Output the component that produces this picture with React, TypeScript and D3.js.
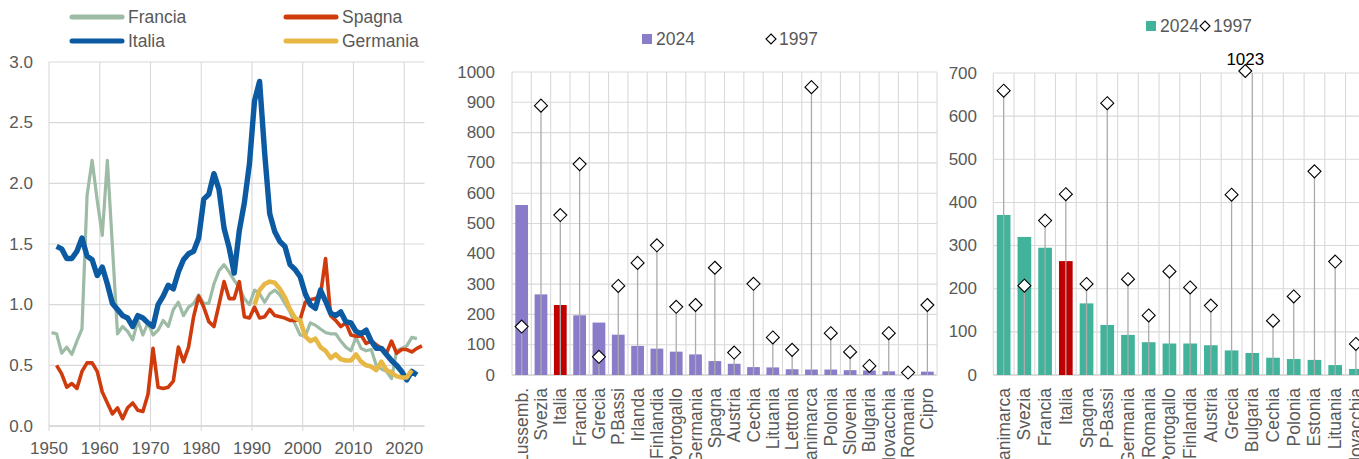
import React from 'react';
import * as d3 from 'd3';

const FONT = "'Liberation Sans Narrow','Arial Narrow','Liberation Sans',sans-serif";
const GRID = '#d9d9d9';
const TXT = '#595959';

// ---------- Panel 1: line chart ----------
const franciaStart = 1950;
const francia = [0.77, 0.76, 0.60, 0.65, 0.59, 0.70, 0.80, 1.90, 2.19, 1.86, 1.57, 2.19, 1.48, 0.76, 0.82, 0.78, 0.71, 0.87, 0.75, 0.85,
  0.75, 0.79, 0.87, 0.82, 0.96, 1.02, 0.91, 0.98, 1.01, 1.08, 1.01, 1.01, 1.17, 1.28, 1.33, 1.27, 1.20, 1.14, 1.05, 1.00,
  1.12, 1.09, 1.02, 1.09, 1.12, 1.08, 1.01, 0.94, 0.84, 0.75, 0.74, 0.85, 0.83, 0.80, 0.77, 0.76, 0.76, 0.70, 0.65, 0.62,
  0.73, 0.64, 0.62, 0.63, 0.50, 0.47, 0.45, 0.39, 0.62, 0.64, 0.66, 0.73, 0.72];
const spagnaStart = 1951;
const spagna = [0.50, 0.43, 0.32, 0.35, 0.31, 0.45, 0.52, 0.52, 0.45, 0.28, 0.19, 0.10, 0.15, 0.06, 0.15, 0.19, 0.13, 0.12, 0.26,
  0.64, 0.32, 0.31, 0.32, 0.37, 0.65, 0.53, 0.65, 0.90, 1.07, 0.98, 0.86, 0.82, 1.00, 1.19, 1.05, 1.05, 1.19, 0.90, 0.89,
  0.98, 0.89, 0.90, 0.96, 0.91, 0.90, 0.89, 0.87, 0.87, 0.88, 1.02, 1.04, 1.05, 1.08, 1.38, 0.91, 0.87, 0.82, 0.85, 0.75,
  0.74, 0.75, 0.68, 0.70, 0.67, 0.64, 0.60, 0.70, 0.60, 0.63, 0.63, 0.61, 0.64, 0.66];
const italiaStart = 1951;
const italia = [1.48, 1.46, 1.38, 1.38, 1.44, 1.55, 1.40, 1.37, 1.24, 1.31, 1.17, 1.01, 0.96, 0.91, 0.89, 0.82, 0.91, 0.89, 0.85,
  0.82, 1.00, 1.07, 1.16, 1.13, 1.27, 1.37, 1.42, 1.44, 1.55, 1.87, 1.91, 2.08, 1.95, 1.63, 1.47, 1.26, 1.61, 1.84, 2.16,
  2.68, 2.84, 2.25, 1.75, 1.60, 1.52, 1.48, 1.33, 1.29, 1.23, 1.09, 1.00, 0.97, 1.12, 1.03, 0.93, 0.91, 0.94, 0.86, 0.85,
  0.78, 0.76, 0.79, 0.70, 0.64, 0.64, 0.59, 0.54, 0.50, 0.45, 0.38, 0.45, 0.42];
const germaniaStart = 1990;
const germania = [1.00, 1.12, 1.17, 1.19, 1.18, 1.13, 1.06, 0.96, 0.89, 0.87, 0.74, 0.70, 0.72, 0.65, 0.62, 0.56, 0.59, 0.55,
  0.54, 0.54, 0.59, 0.53, 0.50, 0.49, 0.46, 0.53, 0.46, 0.44, 0.41, 0.40, 0.40, 0.46];
const yearTicks = [1950, 1960, 1970, 1980, 1990, 2000, 2010, 2020];
const valueTicks1 = [0, 0.5, 1, 1.5, 2, 2.5, 3];

// ---------- Panel 2 ----------
const cats2 = ['Lussemb.', 'Svezia', 'Italia', 'Francia', 'Grecia', 'P.Bassi', 'Irlanda', 'Finlandia', 'Portogallo', 'Germania',
  'Spagna', 'Austria', 'Cechia', 'Lituania', 'Lettonia', 'Danimarca', 'Polonia', 'Slovenia', 'Bulgaria', 'Slovacchia', 'Romania', 'Cipro'];
const bars2 = [561, 266, 231, 197, 173, 133, 96, 87, 77, 68, 46, 37, 26, 25, 19, 18, 18, 16, 15, 12, 1, 11];
const pts2 = [160, 889, 528, 696, 60, 294, 370, 428, 225, 231, 354, 74, 301, 124, 83, 950, 138, 76, 30, 138, 8, 231];
const ticks2 = [0, 100, 200, 300, 400, 500, 600, 700, 800, 900, 1000];

// ---------- Panel 3 ----------
const cats3 = ['Danimarca', 'Svezia', 'Francia', 'Italia', 'Spagna', 'P-Bassi', 'Germania', 'Romania', 'Portogallo', 'Finlandia',
  'Austria', 'Grecia', 'Bulgaria', 'Cechia', 'Polonia', 'Estonia', 'Lituania', 'Slovacchia'];
const bars3 = [371, 320, 295, 264, 166, 116, 93, 76, 73, 73, 69, 57, 51, 40, 37, 35, 23, 14];
const pts3 = [659, 207, 358, 419, 211, 630, 222, 138, 240, 203, 161, 418, 1023, 126, 182, 472, 263, 72];
const ticks3 = [0, 100, 200, 300, 400, 500, 600, 700];

const PURPLE = '#8a7cc8';
const TEAL = '#41b39a';
const RED = '#c00000';

function diamond(cx: number, cy: number, r: number) {
  return `M${cx},${cy - r}L${cx + r},${cy}L${cx},${cy + r}L${cx - r},${cy}Z`;
}

function BarPanel(props: {
  cats: string[]; bars: number[]; pts: number[]; ticks: number[]; max: number;
  x0: number; step: number; y0: number; yTop: number; labelX: number; color: string; gridRight: number;
}) {
  const { cats, bars, pts, ticks, max, x0, step, y0, yTop, labelX, color, gridRight } = props;
  const x = d3.scaleBand<string>().domain(cats).range([x0, x0 + step * cats.length]).paddingInner(0.34).paddingOuter(0.17);
  const y = d3.scaleLinear().domain([0, max]).range([y0, yTop]);
  const bw = x.bandwidth();
  const cx = (c: string) => (x(c) as number) + bw / 2;
  const bounds = d3.range(cats.length + 1).map((i) => x0 + i * x.step());
  return (
    <g>
      {ticks.map((t) => (
        <line key={'h' + t} x1={x0} x2={gridRight} y1={y(t)} y2={y(t)} stroke={t === 0 ? '#cfcfcf' : GRID} strokeWidth={t === 0 ? 1.6 : 1.1} />
      ))}
      {bounds.map((b, i) => (
        <line key={'v' + i} x1={b} x2={b} y1={y(max)} y2={y0} stroke={GRID} strokeWidth={1.1} />
      ))}
      {ticks.map((t) => (
        <text key={'t' + t} x={labelX} y={y(t)} textAnchor="end" dominantBaseline="central" fontSize={17} fill={TXT}>{t}</text>
      ))}
      {cats.map((c, i) => (
        <rect key={'b' + c} x={x(c)} y={y(bars[i])} width={bw} height={y0 - y(bars[i])} fill={c === 'Italia' ? RED : color} />
      ))}
      {cats.map((c, i) => (
        <line key={'s' + c} x1={cx(c)} x2={cx(c)} y1={y0} y2={y(Math.min(pts[i], max))} stroke="#ababab" strokeWidth={1.3} />
      ))}
      {cats.map((c, i) => {
        const over = pts[i] > max;
        const px = over ? cx(c) - 7 : cx(c);
        const py = over ? y(max) - 2 : y(pts[i]);
        return (
          <g key={'d' + c}>
            <path d={diamond(px, py, 6.5)} fill="#fff" stroke="#000" strokeWidth={1.1} />
            {over && (
              <text x={px} y={py - 6} textAnchor="middle" fontSize={17} fill="#000">{pts[i]}</text>
            )}
          </g>
        );
      })}
      {cats.map((c) => (
        <text key={'l' + c} transform={`translate(${cx(c)},388) rotate(-90)`} textAnchor="end" dominantBaseline="central" fontSize={17.5} fill={TXT}>{c}</text>
      ))}
    </g>
  );
}

export default function App() {
  const W = 1359, H = 459;
  const x1 = d3.scaleLinear().domain([1950, 2024]).range([49, 424.5]);
  const y1 = d3.scaleLinear().domain([0, 3]).range([426, 62]);
  const mk = (start: number, vals: number[]) =>
    d3.line<number>().x((_, i) => x1(start + i + 0.5)).y((d) => y1(d)).curve(d3.curveLinear)(vals) || '';

  const series = [
    { name: 'Francia', start: franciaStart, vals: francia, color: '#9dbba5', w: 3.2 },
    { name: 'Spagna', start: spagnaStart, vals: spagna, color: '#cf3b0c', w: 3.6 },
    { name: 'Italia', start: italiaStart, vals: italia, color: '#0b5aa2', w: 5.4 },
    { name: 'Germania', start: germaniaStart, vals: germania, color: '#e7b845', w: 4.6 },
  ];

  return (
    <svg width={W} height={H} style={{ position: 'absolute', left: 0, top: 0, background: '#fff' }} fontFamily={FONT}>
      <rect x={0} y={0} width={W} height={H} fill="#fff" />
      {/* Panel 1 grid */}
      {valueTicks1.map((t) => (
        <line key={'g' + t} x1={49} x2={424.5} y1={y1(t)} y2={y1(t)} stroke={t === 0 ? '#cfcfcf' : GRID} strokeWidth={t === 0 ? 1.6 : 1.1} />
      ))}
      {yearTicks.map((t) => (
        <line key={'gv' + t} x1={x1(t)} x2={x1(t)} y1={y1(3)} y2={y1(0) + 5} stroke={GRID} strokeWidth={1.1} />
      ))}
      {valueTicks1.map((t) => (
        <text key={'yl' + t} x={33} y={y1(t)} textAnchor="end" dominantBaseline="central" fontSize={17} fill={TXT}>{t.toFixed(1)}</text>
      ))}
      {yearTicks.map((t) => (
        <text key={'xl' + t} x={x1(t)} y={448} textAnchor="middle" dominantBaseline="central" fontSize={17} fill={TXT}>{t}</text>
      ))}
      {series.map((s) => (
        <path key={s.name} d={mk(s.start, s.vals)} fill="none" stroke={s.color} strokeWidth={s.w} strokeLinejoin="round" strokeLinecap="butt" />
      ))}
      {/* Panel 1 legend */}
      {series.map((s, i) => {
        const lx = i % 2 === 0 ? 72 : 286;
        const ly = i < 2 ? 17 : 41;
        return (
          <g key={'lg' + s.name}>
            <line x1={lx} x2={lx + 50} y1={ly} y2={ly} stroke={s.color} strokeWidth={5} strokeLinecap="round" />
            <text x={lx + 56} y={ly} dominantBaseline="central" fontSize={17.5} fill={TXT}>{s.name}</text>
          </g>
        );
      })}

      {/* Panel 2 */}
      <BarPanel cats={cats2} bars={bars2} pts={pts2} ticks={ticks2} max={1000} x0={512} step={19.32} y0={375} yTop={72}
        labelX={495} color={PURPLE} gridRight={937} />
      <rect x={642} y={34} width={10} height={10} fill={PURPLE} />
      <text x={656} y={39} dominantBaseline="central" fontSize={17.5} fill={TXT}>2024</text>
      <path d={diamond(771, 39, 5)} fill="#fff" stroke="#000" strokeWidth={1.1} />
      <text x={779} y={39} dominantBaseline="central" fontSize={17.5} fill={TXT}>1997</text>

      {/* Panel 3 */}
      <BarPanel cats={cats3} bars={bars3} pts={pts3} ticks={ticks3} max={700} x0={993.3} step={20.72} y0={375} yTop={73}
        labelX={977} color={TEAL} gridRight={1366} />
      <rect x={1146} y={21} width={10} height={10} fill={TEAL} />
      <text x={1160} y={26} dominantBaseline="central" fontSize={17.5} fill={TXT}>2024</text>
      <path d={diamond(1205, 26, 5)} fill="#fff" stroke="#000" strokeWidth={1.1} />
      <text x={1213} y={26} dominantBaseline="central" fontSize={17.5} fill={TXT}>1997</text>
    </svg>
  );
}
